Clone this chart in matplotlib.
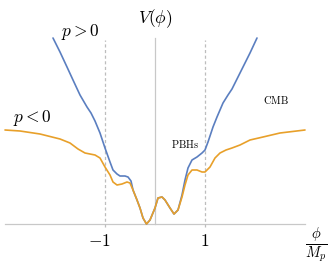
import matplotlib
matplotlib.use("Agg")
import matplotlib.pyplot as plt

plt.rcParams['mathtext.fontset'] = 'cm'

# Potential for p < 0 (orange)
phi_neg = [-3.0, -2.7, -2.3, -1.9, -1.7, -1.54, -1.4, -1.3, -1.2, -1.1, -1.0, -0.9,
           -0.84, -0.76, -0.66, -0.56, -0.5, -0.44, -0.36, -0.3, -0.24, -0.17, -0.1,
           0.0, 0.06, 0.14, 0.2, 0.3, 0.38, 0.46, 0.54, 0.6, 0.66, 0.74, 0.84, 0.94,
           1.0, 1.1, 1.2, 1.3, 1.42, 1.54, 1.7, 1.9, 2.16, 2.5, 3.0]
V_neg = [1.88, 1.86, 1.80, 1.70, 1.62, 1.50, 1.42, 1.40, 1.38, 1.32, 1.14, 0.98,
         0.84, 0.78, 0.80, 0.84, 0.82, 0.68, 0.48, 0.32, 0.12, 0.0, 0.08,
         0.32, 0.52, 0.54, 0.48, 0.32, 0.20, 0.28, 0.54, 0.78, 0.98, 1.08, 1.08, 1.04,
         1.04, 1.14, 1.32, 1.42, 1.48, 1.52, 1.58, 1.68, 1.74, 1.82, 1.88]

# Potential for p > 0 (blue)
phi_pos = [-2.04, -1.9, -1.76, -1.64, -1.5, -1.36, -1.28, -1.2, -1.1, -1.0, -0.9,
           -0.84, -0.76, -0.7, -0.6, -0.54, -0.48, -0.44, -0.36, -0.3, -0.24, -0.17,
           -0.1, 0.0, 0.06, 0.14, 0.2, 0.3, 0.38, 0.46, 0.54, 0.6, 0.66, 0.74, 0.84,
           0.94, 1.0, 1.06, 1.16, 1.24, 1.36, 1.46, 1.54, 1.7, 1.9, 2.04]
V_pos = [3.72, 3.44, 3.14, 2.88, 2.58, 2.34, 2.22, 2.06, 1.82, 1.52, 1.24,
         1.08, 1.00, 0.96, 0.96, 0.94, 0.86, 0.68, 0.48, 0.32, 0.12, 0.0,
         0.08, 0.32, 0.52, 0.54, 0.48, 0.32, 0.20, 0.28, 0.58, 0.88, 1.12, 1.28, 1.34,
         1.42, 1.48, 1.64, 1.94, 2.14, 2.42, 2.58, 2.70, 3.02, 3.42, 3.72]

tick_pos = [-1, 1]
tick_labels = [r'$-1$', r'$1$']

fig = plt.figure(figsize=(3.35, 2.69), dpi=100)
ax = fig.add_axes([0, 0, 1, 1])
ax.set_xlim(-3.1, 3.6)
ax.set_ylim(-0.9, 4.48)
ax.axis('off')

grey = '#c8c8c8'
ax.plot([-3.0, 3.0], [0, 0], color=grey, lw=0.9, zorder=1)
ax.plot([0, 0], [0, 3.72], color=grey, lw=0.9, zorder=1)
for t in tick_pos:
    ax.plot([t, t], [-0.06, 3.68], color='#bdbdbd', lw=0.9, ls=(0, (2.5, 2.0)), zorder=1)

ax.plot(phi_neg, V_neg, color='#e8a02a', lw=1.2, zorder=3,
        solid_joinstyle='round', solid_capstyle='round')
ax.plot(phi_pos, V_pos, color='#5b7fc0', lw=1.2, zorder=2,
        solid_joinstyle='round', solid_capstyle='round')

ax.text(-1.12, -0.34, tick_labels[0], fontsize=12.5, ha='center', va='center')
ax.text(1.0, -0.34, tick_labels[1], fontsize=12.5, ha='center', va='center')
ax.text(3.22, -0.42, r'$\frac{\phi}{M_p}$', fontsize=15, ha='center', va='center')
ax.text(0.0, 4.1, r'$V(\phi)$', fontsize=12.5, ha='center', va='center')
ax.text(-1.5, 3.84, r'$p>0$', fontsize=12.5, ha='center', va='center')
ax.text(-2.46, 2.12, r'$p<0$', fontsize=12.5, ha='center', va='center')
ax.text(0.6, 1.6, r'$\mathrm{PBHs}$', fontsize=7.5, ha='center', va='center')
ax.text(2.42, 2.48, r'$\mathrm{CMB}$', fontsize=7.5, ha='center', va='center')

fig.savefig('out.png', dpi=100)
